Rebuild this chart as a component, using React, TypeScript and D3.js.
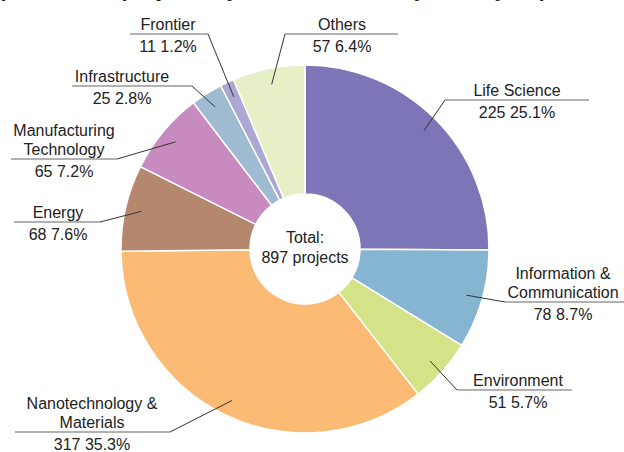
import * as d3 from "d3";

const width = 624;
const height = 452;

// research fields, clockwise from 12 o'clock
const fields = [
	"Life Science",
	"Information & Communication",
	"Environment",
	"Nanotechnology & Materials",
	"Energy",
	"Manufacturing Technology",
	"Infrastructure",
	"Frontier",
	"Others",
];
const projects = [225, 78, 51, 317, 68, 65, 25, 11, 57];
const shares = ["25.1%", "8.7%", "5.7%", "35.3%", "7.6%", "7.2%", "2.8%", "1.2%", "6.4%"];
const colors = [
	"#7c75b7",
	"#86b5d2",
	"#d5e388",
	"#fbbb75",
	"#b4876e",
	"#c78bbf",
	"#9fbbd1",
	"#aca8d3",
	"#e6efc5",
];

// label layout: name lines, underline (x1,x2,y), text centre, end that meets the leader
const labelLayout = [
	{ lines: ["Life Science"], x1: 445, x2: 589, y: 100, cx: 517, join: "x1" },
	{ lines: ["Information &", "Communication"], x1: 505, x2: 626, y: 302, cx: 563, join: "x1" },
	{ lines: ["Environment"], x1: 457, x2: 572, y: 390, cx: 518, join: "x1" },
	{ lines: ["Nanotechnology &", "Materials"], x1: 15, x2: 170, y: 432, cx: 92, join: "x2" },
	{ lines: ["Energy"], x1: 14, x2: 100, y: 222, cx: 58, join: "x2" },
	{ lines: ["Manufacturing", "Technology"], x1: 11, x2: 117, y: 159, cx: 64, join: "x2" },
	{ lines: ["Infrastructure"], x1: 72, x2: 192, y: 86, cx: 122, join: "x2" },
	{ lines: ["Frontier"], x1: 130, x2: 208, y: 34, cx: 168, join: "x2" },
	{ lines: ["Others"], x1: 285, x2: 398, y: 34, cx: 342, join: "x1" },
];

const cx = 305;
const cy = 249;
const outerR = 184;
const innerR = 55;
const leaderR = 168;

const font = "'Liberation Sans', Arial, sans-serif";

const App = () => {
	const total = d3.sum(projects);

	const pie = d3
		.pie<number>()
		.sort(null)
		.value((d) => d);
	const arcs = pie(projects);

	const arc = d3.arc<d3.PieArcDatum<number>>().innerRadius(innerR).outerRadius(outerR);
	const leaderArc = d3.arc<d3.PieArcDatum<number>>().innerRadius(leaderR).outerRadius(leaderR);

	return (
		<svg
			width={width}
			height={height}
			viewBox={`0 0 ${width} ${height}`}
			style={{ position: "absolute", left: 0, top: 0, background: "#fff" }}
			fontFamily={font}
		>
			{/* title, mostly cut off above the frame */}
			<text x={-2} y={-4} fontSize={22} fontWeight="bold" fill="#222">
				(Number of projects by research field, by fiscal year)
			</text>

			<g transform={`translate(${cx},${cy})`}>
				{arcs.map((d, i) => (
					<path key={fields[i]} d={arc(d) ?? ""} fill={colors[i]} stroke="#fff" strokeWidth={1.5} />
				))}
				<text textAnchor="middle" fontSize={16} fill="#222">
					<tspan x={0} y={-6}>Total:</tspan>
					<tspan x={0} y={14}>{`${total} projects`}</tspan>
				</text>
			</g>

			<g className="labels">
				{arcs.map((d, i) => {
					const l = labelLayout[i];
					const [px, py] = leaderArc.centroid(d);
					const jx = l.join === "x1" ? l.x1 : l.x2;
					const n = l.lines.length;
					return (
						<g key={fields[i]}>
							<polyline
								points={`${cx + px},${cy + py} ${jx},${l.y}`}
								fill="none"
								stroke="#333"
								strokeWidth={1}
							/>
							<line x1={l.x1} x2={l.x2} y1={l.y} y2={l.y} stroke="#666" strokeWidth={1.2} />
							<text textAnchor="middle" fontSize={16} fill="#222">
								{l.lines.map((s, k) => (
									<tspan key={s} x={l.cx} y={l.y - 4 - (n - 1 - k) * 19}>
										{s}
									</tspan>
								))}
								<tspan x={l.cx} y={l.y + 18}>{`${projects[i]} ${shares[i]}`}</tspan>
							</text>
						</g>
					);
				})}
			</g>
		</svg>
	);
};

export default App;
